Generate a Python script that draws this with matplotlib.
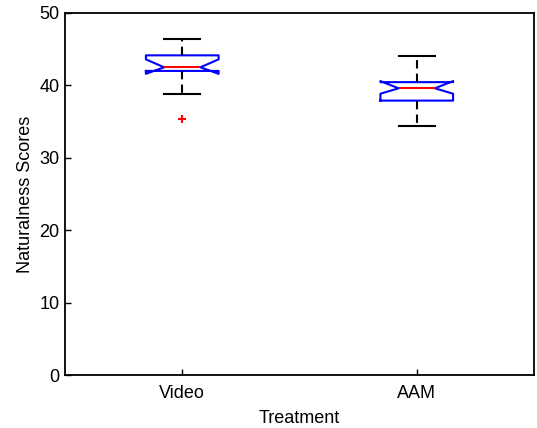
import matplotlib
matplotlib.use("Agg")
import matplotlib.pyplot as plt

categories = ["Video", "AAM"]
whislo = [38.85, 34.4]
q1 = [42.0, 37.9]
med = [42.5, 39.6]
q3 = [44.15, 40.45]
whishi = [46.4, 44.1]
cilo = [41.6, 38.85]
cihi = [43.6, 40.6]
fliers = [[35.4], []]

plt.rcParams['font.family'] = ['Liberation Sans', 'DejaVu Sans']

fig = plt.figure(figsize=(5.37, 4.28), dpi=100)
ax = fig.add_axes([65/537, 1-375/428, (534-65)/537, (375-13)/428])

stats = []
for i, c in enumerate(categories):
    stats.append(dict(label=c, whislo=whislo[i], q1=q1[i], med=med[i], q3=q3[i],
                      whishi=whishi[i], cilo=cilo[i], cihi=cihi[i], fliers=fliers[i]))

ax.bxp(stats, positions=[1, 2], widths=0.31, shownotches=True,
       boxprops=dict(color='blue', linewidth=1.5),
       medianprops=dict(color='red', linewidth=1.5),
       whiskerprops=dict(color='black', linestyle=(0, (4, 2.5)), linewidth=1.5),
       capprops=dict(color='black', linewidth=1.5),
       flierprops=dict(marker='+', markeredgecolor='red', markersize=5.5, markeredgewidth=1.5,
                       linestyle='none'))

ax.set_xlim(0.5, 2.5)
ax.set_ylim(0, 50)
ax.set_yticks([0, 10, 20, 30, 40, 50])
ax.tick_params(direction='in', length=4, width=1, labelsize=13, top=False, right=False)
ax.tick_params(axis='x', pad=7)
ax.tick_params(axis='y', pad=4)
for s in ax.spines.values():
    s.set_linewidth(1.3)
ax.set_xlabel("Treatment", fontsize=13, labelpad=6)
ax.set_ylabel("Naturalness Scores", fontsize=13, labelpad=4)

fig.savefig("out.png", dpi=100)
